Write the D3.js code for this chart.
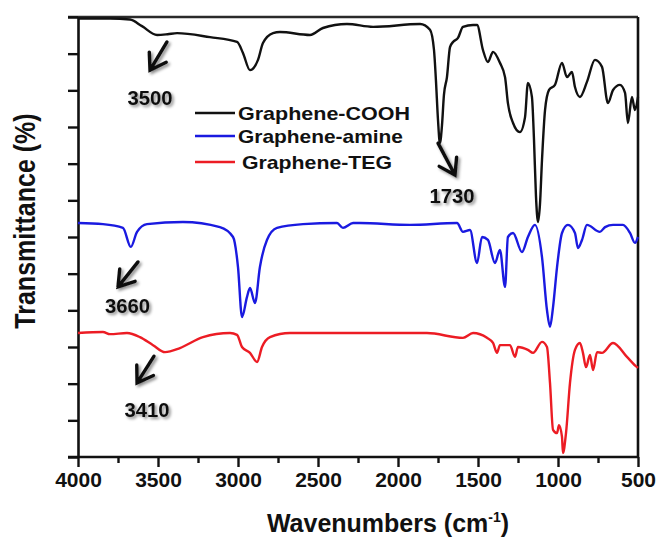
<!DOCTYPE html>
<html><head><meta charset="utf-8">
<script src="https://cdn.jsdelivr.net/npm/d3@7/dist/d3.min.js"></script>
<style>body{margin:0;background:#fff}svg{display:block}</style>
</head><body>
<svg id="c" width="660" height="537"></svg>
<script>
// ---------- data ----------
const seriesNames = ["Graphene-COOH", "Graphene-amine", "Graphene-TEG"];
const seriesColors = ["#111111", "#1a1ae0", "#ec1c24"];
const xTickValues = [4000, 3500, 3000, 2500, 2000, 1500, 1000, 500];
const xMinorTickValues = [3750, 3250, 2750, 2250, 1750, 1250, 750];
const yTickValues = [0, 10, 20, 30, 40, 50, 60, 70, 80, 90, 100, 110, 120];

const coohData = [
  [4000,119.6],[3912,119.6],[3800,119.6],[3675,119.3],[3600,117.5],[3506,115.1],[3440,115.3],[3381,115.6],
  [3175,114.5],[3006,113.2],[2969,110.2],[2925,105.5],[2875,108.3],[2844,112.9],[2781,115.6],[2738,115.9],
  [2550,115.1],[2469,117.0],[2319,118.1],[2156,117.3],[1862,118.1],[1800,116.5],[1775,111.0],[1763,102.8],
  [1750,91.9],[1738,85.6],[1725,90.5],[1713,98.7],[1694,103.6],[1675,111.8],[1656,113.2],[1625,114.3],
  [1594,117.3],[1531,117.8],[1506,117.8],[1469,111.0],[1438,107.7],[1406,110.5],[1363,107.5],[1331,103.6],
  [1313,96.5],[1281,91.1],[1238,88.6],[1206,92.7],[1188,102.0],[1163,98.2],[1150,86.5],[1138,71.5],
  [1125,64.1],[1113,68.7],[1100,81.0],[1081,94.6],[1056,100.1],[1019,101.5],[975,107.5],[944,103.6],
  [913,105.0],[894,100.9],[863,98.2],[819,102.3],[769,108.3],[725,106.4],[688,96.5],[656,100.1],
  [613,101.5],[581,99.3],[563,91.1],[538,98.2],[519,94.6],[500,98.2]
];
const amineData = [
  [4000,63.8],[3844,63.5],[3719,62.5],[3670,57.3],[3631,61.4],[3569,63.5],[3344,64.1],[3113,62.7],
  [3031,60.0],[3000,51.8],[2975,38.2],[2944,43.6],[2925,46.1],[2894,42.0],[2863,51.8],[2819,59.2],
  [2756,62.5],[2594,63.5],[2381,63.8],[2344,62.5],[2281,63.8],[2238,63.8],[1925,63.3],[1631,63.8],
  [1594,61.4],[1550,61.9],[1506,52.9],[1475,60.0],[1438,59.2],[1394,52.9],[1363,56.5],[1331,46.4],
  [1313,60.0],[1281,61.1],[1225,55.9],[1188,60.0],[1144,63.3],[1100,54.5],[1069,40.1],[1050,35.5],
  [1031,40.9],[1006,51.8],[975,61.1],[938,63.3],[894,61.1],[875,57.0],[850,59.2],[819,63.3],
  [738,61.4],[706,62.7],[656,63.3],[594,63.3],[550,61.1],[519,58.4],[500,60.0]
];
const tegData = [
  [4000,33.8],[3844,34.1],[3800,33.5],[3694,33.8],[3613,32.7],[3531,30.5],[3456,28.6],[3363,29.7],
  [3219,32.7],[3050,33.8],[3006,33.3],[2975,30.0],[2925,28.4],[2881,25.9],[2850,30.0],[2800,32.7],
  [2675,33.8],[2256,33.8],[1969,33.8],[1819,33.8],[1594,32.5],[1531,33.8],[1444,32.5],[1406,31.1],
  [1381,28.4],[1363,30.5],[1300,30.5],[1269,27.3],[1250,30.0],[1188,29.2],[1156,28.4],[1100,31.4],
  [1069,30.0],[1050,20.2],[1031,7.4],[1006,6.5],[994,8.7],[975,5.5],[969,1.1],[950,6.5],
  [925,20.2],[894,29.2],[863,31.1],[844,28.4],[825,24.5],[800,27.8],[781,23.7],[756,28.6],
  [725,28.4],[656,31.1],[569,27.3],[506,24.5],[500,24.3]
];
const allSeries = [coohData, amineData, tegData];
const peakLabels = ["3500", "3660", "3410", "1730"];

// ---------- layout ----------
const W = 660, H = 537;
const m = {left: 78, top: 17, right: 22, bottom: 80};
const pw = W - m.left - m.right, ph = H - m.top - m.bottom;
const FONT = "'Liberation Sans', Arial, Helvetica, sans-serif";

const svg = d3.select("#c");
const defs = svg.append("defs");
const f = defs.append("filter").attr("id","sh").attr("x","-50%").attr("y","-50%").attr("width","200%").attr("height","200%");
f.append("feDropShadow").attr("dx",2).attr("dy",2).attr("stdDeviation",1.6).attr("flood-color","#000").attr("flood-opacity",0.45);

const g = svg.append("g").attr("transform", `translate(${m.left},${m.top})`);

const x = d3.scaleLinear().domain([4000, 500]).range([0, pw]);
const y = d3.scaleLinear().domain([0, 120]).range([ph, 0]);

// frame (top + right)
g.append("line").attr("x1", -10).attr("x2", pw).attr("y1", 0).attr("y2", 0)
  .attr("stroke", "#2a2a2a").attr("stroke-width", 2.6);
g.append("line").attr("x1", pw).attr("x2", pw).attr("y1", 0).attr("y2", ph)
  .attr("stroke", "#111").attr("stroke-width", 2.6);

// axes
const xAxis = g.append("g").attr("transform", `translate(0,${ph})`)
  .call(d3.axisBottom(x).tickValues(xTickValues).tickSize(10).tickSizeOuter(0).tickPadding(5).tickFormat(d3.format("d")));
const xMinor = g.append("g").attr("transform", `translate(0,${ph})`)
  .call(d3.axisBottom(x).tickValues(xMinorTickValues).tickSize(6).tickFormat(""));
xMinor.select(".domain").remove();
const yAxis = g.append("g")
  .call(d3.axisLeft(y).tickValues(yTickValues).tickSize(10).tickSizeOuter(0).tickFormat(""));

[xAxis, xMinor, yAxis].forEach(a => {
  a.selectAll("path.domain").attr("stroke", "#111").attr("stroke-width", 2.6);
  a.selectAll(".tick line").attr("stroke", "#111").attr("stroke-width", 2.4);
});
xAxis.select(".domain").attr("d", `M-10,0H${pw}`);
xAxis.selectAll(".tick text")
  .attr("font-family", FONT).attr("font-weight", "bold").attr("font-size", 21)
  .attr("fill", "#111").attr("dy", "0.71em");

// curves
const line = d3.line().x(d => x(d[0])).y(d => y(d[1])).curve(d3.curveMonotoneX);
allSeries.forEach((s, i) => {
  g.append("path").datum(s).attr("d", line).attr("fill", "none")
    .attr("stroke", seriesColors[i]).attr("stroke-width", 2.4).attr("stroke-linejoin", "round");
});

// legend
const legRowsY = [96, 119, 145];
const legTextLen = [172, 165, 150];
const legTextX = [160, 160, 164];
seriesNames.forEach((n, i) => {
  g.append("line").attr("x1", 117).attr("x2", 157).attr("y1", legRowsY[i]).attr("y2", legRowsY[i])
    .attr("stroke", seriesColors[i]).attr("stroke-width", 2.6);
  g.append("text").attr("x", legTextX[i]).attr("y", legRowsY[i] + 6.5)
    .attr("font-family", FONT).attr("font-weight", "bold").attr("font-size", 18.5).attr("fill", "#111")
    .attr("textLength", legTextLen[i]).attr("lengthAdjust", "spacingAndGlyphs").text(n);
});

// peak annotations (label center in data coords; arrow tail -> tip)
const ann = [
  {t: peakLabels[0], lx: 3550, ly: 96.0, tail: [3444, 113.2], tip: [3550, 105.5]},
  {t: peakLabels[1], lx: 3691, ly: 39.3, tail: [3625, 53.2], tip: [3750, 46.4]},
  {t: peakLabels[2], lx: 3569, ly: 10.9, tail: [3525, 27.5], tip: [3631, 20.2]},
  {t: peakLabels[3], lx: 1663, ly: 69.3, tail: [1750, 85.6], tip: [1644, 76.9]}
];
ann.forEach(a => {
  g.append("text").attr("x", x(a.lx)).attr("y", y(a.ly)).attr("text-anchor", "middle")
    .attr("font-family", FONT).attr("font-weight", "bold").attr("font-size", 20).attr("fill", "#111")
    .attr("textLength", 45).attr("lengthAdjust", "spacingAndGlyphs")
    .attr("filter", "url(#sh)").text(a.t);
  const x0 = x(a.tail[0]), y0 = y(a.tail[1]), x1 = x(a.tip[0]), y1 = y(a.tip[1]);
  const ang = Math.atan2(y0 - y1, x0 - x1), L = 18, spread = 0.58;
  const p1 = [x1 + L * Math.cos(ang - spread), y1 + L * Math.sin(ang - spread)];
  const p2 = [x1 + L * Math.cos(ang + spread), y1 + L * Math.sin(ang + spread)];
  g.append("path").attr("d", `M${x0},${y0}L${x1},${y1}M${p1[0]},${p1[1]}L${x1},${y1}L${p2[0]},${p2[1]}`)
    .attr("fill", "none").attr("stroke", "#111").attr("stroke-width", 3.4)
    .attr("stroke-linecap", "round").attr("stroke-linejoin", "miter").attr("filter", "url(#sh)");
});

// axis titles
const xt = svg.append("text").attr("x", 388).attr("y", 532).attr("text-anchor", "middle")
  .attr("font-family", FONT).attr("font-weight", "bold").attr("font-size", 25).attr("fill", "#111");
xt.append("tspan").text("Wavenumbers (cm");
xt.append("tspan").attr("font-size", 14).attr("dy", -10).text("-1");
xt.append("tspan").attr("dy", 10).text(")");

svg.append("text").attr("transform", "translate(35,221) rotate(-90) scale(1,1.15)")
  .attr("text-anchor", "middle").attr("font-family", FONT).attr("font-weight", "bold")
  .attr("font-size", 25).attr("fill", "#111").text("Transmittance (%)");
</script>
</body></html>
